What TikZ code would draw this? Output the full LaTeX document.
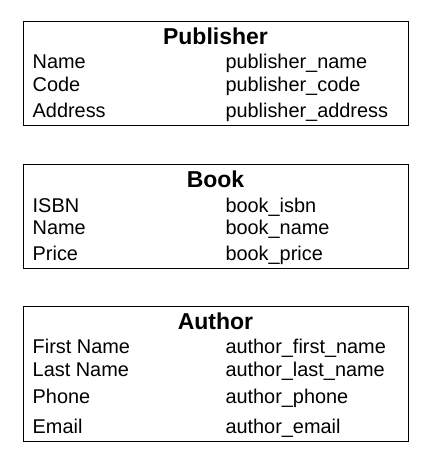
\documentclass[tikz,border=0pt]{standalone}
\usepackage{fontspec}
\setmainfont{Liberation Sans}
\usetikzlibrary{positioning}

\begin{document}
\begin{tikzpicture}[x=1pt,y=-1pt,table box/.style={draw,line width=1pt,minimum width=385pt,inner sep=0pt},
    title text/.style={anchor=base,inner sep=0pt,font=\bfseries\fontsize{23}{24}\selectfont},
    field/.style={anchor=base west,inner sep=0pt,font=\fontsize{19.9}{20}\selectfont}]
	\useasboundingbox (0,0) rectangle (434,471);

	% Publisher
	\node[table box,minimum height=104pt] (publisher) at (215.5,73) {};
	\node[title text] (publisher title) at (215.5,44.3) {Publisher};
	\node[field] (pub name) at (32.5,68) {Name};
	\node[field] (pub code) at (32.5,91) {Code};
	\node[field] (pub address) at (32.5,117) {Address};
	\node[field] (pub name col) at (225.3,68) {publisher\_name};
	\node[field] (pub code col) at (225.3,91) {publisher\_code};
	\node[field] (pub address col) at (225.3,117) {publisher\_address};

	% Book
	\node[table box,minimum height=104pt] (book) at (215.5,216) {};
	\node[title text] (book title) at (215.5,187) {Book};
	\node[field] (book isbn) at (32.5,212) {ISBN};
	\node[field] (book name) at (32.5,234) {Name};
	\node[field] (book price) at (32.5,260) {Price};
	\node[field] (book isbn col) at (225.3,212) {book\_isbn};
	\node[field] (book name col) at (225.3,234) {book\_name};
	\node[field] (book price col) at (225.3,260) {book\_price};

	% Author
	\node[table box,minimum height=135pt] (author) at (215.5,373.5) {};
	\node[title text] (author title) at (215.5,329) {Author};
	\node[field] (auth first) at (32.5,353) {First Name};
	\node[field] (auth last) at (32.5,376) {Last Name};
	\node[field] (auth phone) at (32.5,403) {Phone};
	\node[field] (auth email) at (32.5,433) {Email};
	\node[field] (auth first col) at (225.3,353) {author\_first\_name};
	\node[field] (auth last col) at (225.3,376) {author\_last\_name};
	\node[field] (auth phone col) at (225.3,403) {author\_phone};
	\node[field] (auth email col) at (225.3,433) {author\_email};

\end{tikzpicture}
\end{document}
